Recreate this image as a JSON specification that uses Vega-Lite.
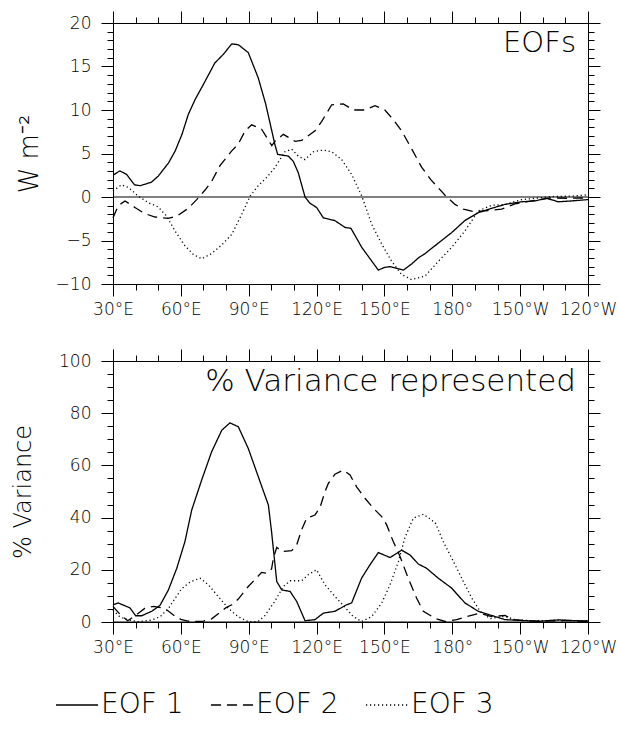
{
  "$schema": "https://vega.github.io/schema/vega-lite/v6.json",
  "padding": {"left": 10, "top": 10, "right": 5, "bottom": 5},
  "background": "white",
  "spacing": 30,
  "config": {
    "font": "DejaVu Sans",
    "view": {"stroke": "black", "strokeWidth": 1},
    "axis": {"grid": false, "domain": false, "tickColor": "black", "tickWidth": 1, "labelColor": "black", "labelFont": "DejaVu Sans", "labelFontSize": 17, "labelFontWeight": 200, "titleFont": "DejaVu Sans", "titleFontWeight": 200, "titleColor": "black", "labelOverlap": false, "labelFlush": false},
    "title": {"font": "DejaVu Sans", "fontWeight": 200, "color": "black"},
    "legend": {"labelFont": "DejaVu Sans", "labelFontWeight": 200, "labelColor": "black"}
  },
  "resolve": {"scale": {"strokeDash": "shared"}, "legend": {"strokeDash": "shared"}},
  "datasets": {
    "eof": [
      {"lon":30,"value":2.5,"series":"EOF 1"},{"lon":33,"value":3.0,"series":"EOF 1"},{"lon":36,"value":2.6,"series":"EOF 1"},{"lon":39.5,"value":1.4,"series":"EOF 1"},{"lon":42,"value":1.3,"series":"EOF 1"},{"lon":47,"value":1.7,"series":"EOF 1"},{"lon":50,"value":2.4,"series":"EOF 1"},{"lon":54.5,"value":3.9,"series":"EOF 1"},{"lon":57.5,"value":5.3,"series":"EOF 1"},{"lon":60.5,"value":7.2,"series":"EOF 1"},{"lon":63.3,"value":9.5,"series":"EOF 1"},{"lon":66.3,"value":11.2,"series":"EOF 1"},{"lon":70.7,"value":13.3,"series":"EOF 1"},{"lon":75,"value":15.4,"series":"EOF 1"},{"lon":78.8,"value":16.4,"series":"EOF 1"},{"lon":82.5,"value":17.6,"series":"EOF 1"},{"lon":85.4,"value":17.5,"series":"EOF 1"},{"lon":89.8,"value":16.6,"series":"EOF 1"},{"lon":94.2,"value":13.7,"series":"EOF 1"},{"lon":97.5,"value":10.7,"series":"EOF 1"},{"lon":101.6,"value":6.0,"series":"EOF 1"},{"lon":102.8,"value":4.9,"series":"EOF 1"},{"lon":107.5,"value":4.7,"series":"EOF 1"},{"lon":109.7,"value":4.1,"series":"EOF 1"},{"lon":111.9,"value":2.8,"series":"EOF 1"},{"lon":114.9,"value":0.0,"series":"EOF 1"},{"lon":117,"value":-0.7,"series":"EOF 1"},{"lon":120,"value":-1.2,"series":"EOF 1"},{"lon":123,"value":-2.4,"series":"EOF 1"},{"lon":128,"value":-2.7,"series":"EOF 1"},{"lon":132.6,"value":-3.5,"series":"EOF 1"},{"lon":135.2,"value":-3.6,"series":"EOF 1"},{"lon":140,"value":-5.8,"series":"EOF 1"},{"lon":147.3,"value":-8.4,"series":"EOF 1"},{"lon":150,"value":-8.1,"series":"EOF 1"},{"lon":152.5,"value":-8.0,"series":"EOF 1"},{"lon":158.4,"value":-8.4,"series":"EOF 1"},{"lon":162,"value":-7.7,"series":"EOF 1"},{"lon":165,"value":-7.0,"series":"EOF 1"},{"lon":168,"value":-6.5,"series":"EOF 1"},{"lon":173.8,"value":-5.3,"series":"EOF 1"},{"lon":179.7,"value":-4.1,"series":"EOF 1"},{"lon":185.6,"value":-2.7,"series":"EOF 1"},{"lon":191.5,"value":-1.8,"series":"EOF 1"},{"lon":197.4,"value":-1.3,"series":"EOF 1"},{"lon":203.3,"value":-0.85,"series":"EOF 1"},{"lon":210.7,"value":-0.55,"series":"EOF 1"},{"lon":216.6,"value":-0.45,"series":"EOF 1"},{"lon":221.7,"value":-0.15,"series":"EOF 1"},{"lon":226.9,"value":-0.55,"series":"EOF 1"},{"lon":232.8,"value":-0.45,"series":"EOF 1"},{"lon":240,"value":-0.3,"series":"EOF 1"},
      {"lon":30,"value":-2.4,"series":"EOF 2"},{"lon":32.3,"value":-1.0,"series":"EOF 2"},{"lon":35.3,"value":-0.45,"series":"EOF 2"},{"lon":39.7,"value":-1.2,"series":"EOF 2"},{"lon":44,"value":-1.9,"series":"EOF 2"},{"lon":48.6,"value":-2.3,"series":"EOF 2"},{"lon":54.4,"value":-2.45,"series":"EOF 2"},{"lon":58.2,"value":-2.2,"series":"EOF 2"},{"lon":63.3,"value":-1.3,"series":"EOF 2"},{"lon":67,"value":-0.3,"series":"EOF 2"},{"lon":70.7,"value":0.8,"series":"EOF 2"},{"lon":73.6,"value":1.8,"series":"EOF 2"},{"lon":77.3,"value":3.6,"series":"EOF 2"},{"lon":82.5,"value":5.3,"series":"EOF 2"},{"lon":85.4,"value":6.1,"series":"EOF 2"},{"lon":88.4,"value":7.6,"series":"EOF 2"},{"lon":91.3,"value":8.3,"series":"EOF 2"},{"lon":95.7,"value":7.8,"series":"EOF 2"},{"lon":100.2,"value":5.9,"series":"EOF 2"},{"lon":101.6,"value":6.4,"series":"EOF 2"},{"lon":105.3,"value":7.2,"series":"EOF 2"},{"lon":110.5,"value":6.4,"series":"EOF 2"},{"lon":113.4,"value":6.5,"series":"EOF 2"},{"lon":119.3,"value":7.6,"series":"EOF 2"},{"lon":122.3,"value":8.7,"series":"EOF 2"},{"lon":126.7,"value":10.6,"series":"EOF 2"},{"lon":131.8,"value":10.7,"series":"EOF 2"},{"lon":136.2,"value":10.0,"series":"EOF 2"},{"lon":141.4,"value":10.0,"series":"EOF 2"},{"lon":145.8,"value":10.5,"series":"EOF 2"},{"lon":150.2,"value":10.0,"series":"EOF 2"},{"lon":153.9,"value":8.9,"series":"EOF 2"},{"lon":157.6,"value":7.6,"series":"EOF 2"},{"lon":162.1,"value":5.5,"series":"EOF 2"},{"lon":166.5,"value":3.4,"series":"EOF 2"},{"lon":170.5,"value":2.0,"series":"EOF 2"},{"lon":176.8,"value":0.2,"series":"EOF 2"},{"lon":181.2,"value":-0.85,"series":"EOF 2"},{"lon":184.9,"value":-1.4,"series":"EOF 2"},{"lon":190,"value":-1.7,"series":"EOF 2"},{"lon":195.9,"value":-1.55,"series":"EOF 2"},{"lon":201.8,"value":-1.4,"series":"EOF 2"},{"lon":207.7,"value":-0.8,"series":"EOF 2"},{"lon":215,"value":-0.45,"series":"EOF 2"},{"lon":223.9,"value":-0.1,"series":"EOF 2"},{"lon":231.3,"value":-0.15,"series":"EOF 2"},{"lon":240,"value":-0.1,"series":"EOF 2"},
      {"lon":30,"value":0.7,"series":"EOF 3"},{"lon":33.8,"value":1.4,"series":"EOF 3"},{"lon":36.8,"value":1.1,"series":"EOF 3"},{"lon":41.2,"value":0.1,"series":"EOF 3"},{"lon":45.6,"value":-0.65,"series":"EOF 3"},{"lon":50,"value":-1.15,"series":"EOF 3"},{"lon":53.7,"value":-2.2,"series":"EOF 3"},{"lon":57.4,"value":-3.9,"series":"EOF 3"},{"lon":61.8,"value":-5.6,"series":"EOF 3"},{"lon":65.5,"value":-6.6,"series":"EOF 3"},{"lon":69.2,"value":-7.1,"series":"EOF 3"},{"lon":73.6,"value":-6.5,"series":"EOF 3"},{"lon":78.1,"value":-5.5,"series":"EOF 3"},{"lon":82.5,"value":-4.3,"series":"EOF 3"},{"lon":86.9,"value":-2.0,"series":"EOF 3"},{"lon":90.6,"value":0.1,"series":"EOF 3"},{"lon":94.2,"value":1.3,"series":"EOF 3"},{"lon":98.5,"value":2.4,"series":"EOF 3"},{"lon":101.6,"value":3.4,"series":"EOF 3"},{"lon":106,"value":5.2,"series":"EOF 3"},{"lon":109,"value":5.5,"series":"EOF 3"},{"lon":111.9,"value":4.7,"series":"EOF 3"},{"lon":114.9,"value":4.3,"series":"EOF 3"},{"lon":118.6,"value":5.2,"series":"EOF 3"},{"lon":123,"value":5.4,"series":"EOF 3"},{"lon":126.7,"value":5.2,"series":"EOF 3"},{"lon":131.1,"value":4.3,"series":"EOF 3"},{"lon":135.5,"value":2.6,"series":"EOF 3"},{"lon":140,"value":0.1,"series":"EOF 3"},{"lon":144.4,"value":-3.15,"series":"EOF 3"},{"lon":148.8,"value":-5.4,"series":"EOF 3"},{"lon":153.2,"value":-7.4,"series":"EOF 3"},{"lon":157.6,"value":-8.9,"series":"EOF 3"},{"lon":162,"value":-9.5,"series":"EOF 3"},{"lon":167.9,"value":-9.1,"series":"EOF 3"},{"lon":173.8,"value":-7.4,"series":"EOF 3"},{"lon":179.7,"value":-5.8,"series":"EOF 3"},{"lon":185.6,"value":-3.9,"series":"EOF 3"},{"lon":191.5,"value":-1.6,"series":"EOF 3"},{"lon":197.4,"value":-0.95,"series":"EOF 3"},{"lon":203.3,"value":-0.85,"series":"EOF 3"},{"lon":210.7,"value":-0.3,"series":"EOF 3"},{"lon":216.6,"value":-0.15,"series":"EOF 3"},{"lon":223.9,"value":0.05,"series":"EOF 3"},{"lon":232.8,"value":0.1,"series":"EOF 3"},{"lon":240,"value":0.25,"series":"EOF 3"}
    ],
    "pct": [
      {"lon":30,"value":6.6,"series":"EOF 1"},{"lon":32.3,"value":7.3,"series":"EOF 1"},{"lon":37.5,"value":5.4,"series":"EOF 1"},{"lon":40,"value":2.4,"series":"EOF 1"},{"lon":42.7,"value":2.4,"series":"EOF 1"},{"lon":47.1,"value":4.1,"series":"EOF 1"},{"lon":50.8,"value":6.4,"series":"EOF 1"},{"lon":54.5,"value":12.3,"series":"EOF 1"},{"lon":58.2,"value":20.6,"series":"EOF 1"},{"lon":61.8,"value":30.8,"series":"EOF 1"},{"lon":64.8,"value":42.9,"series":"EOF 1"},{"lon":69.2,"value":54.4,"series":"EOF 1"},{"lon":73.6,"value":65.2,"series":"EOF 1"},{"lon":78.1,"value":73.5,"series":"EOF 1"},{"lon":81.7,"value":76.3,"series":"EOF 1"},{"lon":85.4,"value":74.8,"series":"EOF 1"},{"lon":89.8,"value":66.5,"series":"EOF 1"},{"lon":95,"value":53.8,"series":"EOF 1"},{"lon":98.7,"value":44.8,"series":"EOF 1"},{"lon":100.1,"value":34.6,"series":"EOF 1"},{"lon":102.4,"value":15.5,"series":"EOF 1"},{"lon":104.6,"value":12.3,"series":"EOF 1"},{"lon":108.3,"value":11.7,"series":"EOF 1"},{"lon":111.2,"value":7.9,"series":"EOF 1"},{"lon":114.9,"value":0.5,"series":"EOF 1"},{"lon":119.3,"value":0.9,"series":"EOF 1"},{"lon":123,"value":3.4,"series":"EOF 1"},{"lon":128.1,"value":4.1,"series":"EOF 1"},{"lon":133.3,"value":6.6,"series":"EOF 1"},{"lon":135.5,"value":7.3,"series":"EOF 1"},{"lon":139.9,"value":16.8,"series":"EOF 1"},{"lon":143.6,"value":21.9,"series":"EOF 1"},{"lon":147.3,"value":26.6,"series":"EOF 1"},{"lon":152.5,"value":24.7,"series":"EOF 1"},{"lon":157.6,"value":27.5,"series":"EOF 1"},{"lon":161.3,"value":25.7,"series":"EOF 1"},{"lon":165,"value":22.2,"series":"EOF 1"},{"lon":168.6,"value":20.6,"series":"EOF 1"},{"lon":173.8,"value":16.8,"series":"EOF 1"},{"lon":179.7,"value":13,"series":"EOF 1"},{"lon":185.6,"value":7.3,"series":"EOF 1"},{"lon":191.5,"value":4.1,"series":"EOF 1"},{"lon":197.4,"value":2.5,"series":"EOF 1"},{"lon":203.3,"value":0.9,"series":"EOF 1"},{"lon":210.7,"value":0.6,"series":"EOF 1"},{"lon":218,"value":0.25,"series":"EOF 1"},{"lon":226.9,"value":0.8,"series":"EOF 1"},{"lon":234.3,"value":0.5,"series":"EOF 1"},{"lon":240,"value":0.4,"series":"EOF 1"},
      {"lon":30,"value":6,"series":"EOF 2"},{"lon":33,"value":3,"series":"EOF 2"},{"lon":36.5,"value":0.5,"series":"EOF 2"},{"lon":40,"value":2.5,"series":"EOF 2"},{"lon":44,"value":5.2,"series":"EOF 2"},{"lon":48,"value":6,"series":"EOF 2"},{"lon":51,"value":5.5,"series":"EOF 2"},{"lon":54,"value":4.5,"series":"EOF 2"},{"lon":57,"value":2.5,"series":"EOF 2"},{"lon":60,"value":1,"series":"EOF 2"},{"lon":63,"value":0.3,"series":"EOF 2"},{"lon":67,"value":0.2,"series":"EOF 2"},{"lon":70,"value":0.3,"series":"EOF 2"},{"lon":73.6,"value":1.2,"series":"EOF 2"},{"lon":77.3,"value":3.7,"series":"EOF 2"},{"lon":80,"value":5.5,"series":"EOF 2"},{"lon":82.5,"value":6.6,"series":"EOF 2"},{"lon":85.4,"value":8.8,"series":"EOF 2"},{"lon":89.8,"value":13.6,"series":"EOF 2"},{"lon":92.7,"value":16.2,"series":"EOF 2"},{"lon":95.7,"value":19,"series":"EOF 2"},{"lon":97.9,"value":18.7,"series":"EOF 2"},{"lon":100.1,"value":20.3,"series":"EOF 2"},{"lon":100.9,"value":24.5,"series":"EOF 2"},{"lon":102.4,"value":28.6,"series":"EOF 2"},{"lon":104.6,"value":27,"series":"EOF 2"},{"lon":109,"value":27.3,"series":"EOF 2"},{"lon":111.2,"value":29.5,"series":"EOF 2"},{"lon":113.4,"value":35.3,"series":"EOF 2"},{"lon":115.6,"value":39.8,"series":"EOF 2"},{"lon":119.3,"value":41,"series":"EOF 2"},{"lon":121.5,"value":43.8,"series":"EOF 2"},{"lon":123.7,"value":49.9,"series":"EOF 2"},{"lon":125.2,"value":53.1,"series":"EOF 2"},{"lon":128.1,"value":56.6,"series":"EOF 2"},{"lon":131.8,"value":58.2,"series":"EOF 2"},{"lon":134.8,"value":56.3,"series":"EOF 2"},{"lon":137.7,"value":51.8,"series":"EOF 2"},{"lon":141.4,"value":47.4,"series":"EOF 2"},{"lon":145.1,"value":43.6,"series":"EOF 2"},{"lon":148.8,"value":40.4,"series":"EOF 2"},{"lon":151,"value":37.2,"series":"EOF 2"},{"lon":153.9,"value":30.8,"series":"EOF 2"},{"lon":156.9,"value":25.1,"series":"EOF 2"},{"lon":160.5,"value":16.8,"series":"EOF 2"},{"lon":164.2,"value":9.2,"series":"EOF 2"},{"lon":167.2,"value":4.1,"series":"EOF 2"},{"lon":172.4,"value":1.4,"series":"EOF 2"},{"lon":176.8,"value":0.2,"series":"EOF 2"},{"lon":182,"value":0.9,"series":"EOF 2"},{"lon":186.3,"value":2.1,"series":"EOF 2"},{"lon":192.2,"value":3.4,"series":"EOF 2"},{"lon":197.4,"value":2.1,"series":"EOF 2"},{"lon":203.3,"value":2.5,"series":"EOF 2"},{"lon":207,"value":0.9,"series":"EOF 2"},{"lon":212,"value":0.5,"series":"EOF 2"},{"lon":221,"value":0.3,"series":"EOF 2"},{"lon":230,"value":0.6,"series":"EOF 2"},{"lon":240,"value":0.2,"series":"EOF 2"},
      {"lon":30,"value":4.5,"series":"EOF 3"},{"lon":33,"value":2,"series":"EOF 3"},{"lon":36.5,"value":0.8,"series":"EOF 3"},{"lon":41.2,"value":0.1,"series":"EOF 3"},{"lon":47,"value":0.7,"series":"EOF 3"},{"lon":50.8,"value":2,"series":"EOF 3"},{"lon":54.5,"value":5.2,"series":"EOF 3"},{"lon":57.4,"value":9,"series":"EOF 3"},{"lon":60.4,"value":12.8,"series":"EOF 3"},{"lon":64,"value":15.3,"series":"EOF 3"},{"lon":68.5,"value":16.8,"series":"EOF 3"},{"lon":72.2,"value":14.2,"series":"EOF 3"},{"lon":76.6,"value":9.7,"series":"EOF 3"},{"lon":81,"value":5.2,"series":"EOF 3"},{"lon":85.4,"value":2,"series":"EOF 3"},{"lon":89.8,"value":0.1,"series":"EOF 3"},{"lon":94.2,"value":0.2,"series":"EOF 3"},{"lon":97.2,"value":2.5,"series":"EOF 3"},{"lon":101.6,"value":8,"series":"EOF 3"},{"lon":105.3,"value":13.6,"series":"EOF 3"},{"lon":108.3,"value":15.8,"series":"EOF 3"},{"lon":113.4,"value":15.8,"series":"EOF 3"},{"lon":116.3,"value":18.1,"series":"EOF 3"},{"lon":120,"value":20,"series":"EOF 3"},{"lon":123.7,"value":14.3,"series":"EOF 3"},{"lon":128.1,"value":9.8,"series":"EOF 3"},{"lon":132.6,"value":5.6,"series":"EOF 3"},{"lon":136.2,"value":2.1,"series":"EOF 3"},{"lon":139.9,"value":0.2,"series":"EOF 3"},{"lon":144.4,"value":2.1,"series":"EOF 3"},{"lon":148.8,"value":7.3,"series":"EOF 3"},{"lon":152.5,"value":14.3,"series":"EOF 3"},{"lon":156.2,"value":23.2,"series":"EOF 3"},{"lon":159.2,"value":32.7,"series":"EOF 3"},{"lon":162.8,"value":39.8,"series":"EOF 3"},{"lon":167.3,"value":41.3,"series":"EOF 3"},{"lon":172.5,"value":38,"series":"EOF 3"},{"lon":176,"value":30.8,"series":"EOF 3"},{"lon":180.5,"value":23.2,"series":"EOF 3"},{"lon":184.9,"value":15.5,"series":"EOF 3"},{"lon":188.6,"value":9.2,"series":"EOF 3"},{"lon":192.3,"value":4.1,"series":"EOF 3"},{"lon":196.7,"value":1.3,"series":"EOF 3"},{"lon":203.3,"value":2.2,"series":"EOF 3"},{"lon":207.7,"value":0.9,"series":"EOF 3"},{"lon":215,"value":0.5,"series":"EOF 3"},{"lon":226.9,"value":0.6,"series":"EOF 3"},{"lon":240,"value":0.4,"series":"EOF 3"}
    ],
    "zero": [{"lonStart":30,"lonEnd":240,"level":0}]
  },
  "vconcat": [
    {
      "width": 475,
      "height": 261,
      "title": {"text": "EOFs", "orient": "top", "anchor": "end", "frame": "group", "offset": -47, "dx": -12, "fontSize": 29, "fontWeight": 200},
      "resolve": {"axis": {"x": "independent", "y": "independent"}},
      "layer": [
        {
          "data": {"name": "eof"},
          "mark": {"type": "line", "stroke": "black", "strokeWidth": 1.3},
          "encoding": {
            "x": {"field": "lon", "type": "quantitative", "scale": {"domain": [30, 240], "nice": false, "zero": false},
              "axis": {"orient": "bottom", "title": null, "values": [30,40,50,60,70,80,90,100,110,120,130,140,150,160,170,180,190,200,210,220,230,240],
                "tickSize": {"condition": {"test": "datum.value % 30 === 0", "value": 12}, "value": 6},
                "labelPadding": 5,
                "labelExpr": "datum.value % 30 === 0 ? (datum.value == 180 ? '180°' : (datum.value < 180 ? datum.value + '°E' : (360 - datum.value) + '°W')) : ''"}},
            "y": {"field": "value", "type": "quantitative", "scale": {"domain": [-10, 20], "nice": false, "zero": false},
              "axis": {"orient": "left", "title": "W m⁻²", "titleFontSize": 26, "titleX": -71,
                "values": [-10,-9,-8,-7,-6,-5,-4,-3,-2,-1,0,1,2,3,4,5,6,7,8,9,10,11,12,13,14,15,16,17,18,19,20],
                "tickSize": {"condition": {"test": "datum.value % 5 === 0", "value": 12}, "value": 6},
                "labelPadding": 10,
                "labelExpr": "datum.value % 5 === 0 ? datum.label : ''"}},
            "strokeDash": {"field": "series", "type": "nominal",
              "scale": {"domain": ["EOF 1", "EOF 2", "EOF 3"], "range": [[1, 0], [10, 6], [1.2, 2.8]]},
              "legend": {"orient": "none", "legendX": -58, "legendY": 660, "direction": "horizontal", "title": null,
                "symbolType": "stroke", "symbolSize": 1764, "symbolStrokeWidth": 1.3, "symbolStrokeColor": "black",
                "labelFontSize": 28, "labelOffset": 2, "columnPadding": 24}}
          }
        },
        {
          "data": {"name": "zero"},
          "mark": {"type": "rule", "stroke": "black", "strokeWidth": 1},
          "encoding": {
            "x": {"field": "lonStart", "type": "quantitative",
              "axis": {"orient": "top", "title": null, "labels": false, "values": [30,40,50,60,70,80,90,100,110,120,130,140,150,160,170,180,190,200,210,220,230,240],
                "tickSize": {"condition": {"test": "datum.value % 30 === 0", "value": 12}, "value": 6}}},
            "x2": {"field": "lonEnd"},
            "y": {"field": "level", "type": "quantitative",
              "axis": {"orient": "right", "title": null, "labels": false,
                "values": [-10,-9,-8,-7,-6,-5,-4,-3,-2,-1,0,1,2,3,4,5,6,7,8,9,10,11,12,13,14,15,16,17,18,19,20],
                "tickSize": {"condition": {"test": "datum.value % 5 === 0", "value": 12}, "value": 6}}}
          }
        }
      ]
    },
    {
      "width": 475,
      "height": 261,
      "title": {"text": "% Variance represented", "orient": "top", "anchor": "end", "frame": "group", "offset": -49, "dx": -12, "fontSize": 31, "fontWeight": 200},
      "resolve": {"axis": {"x": "independent", "y": "independent"}},
      "layer": [
        {
          "data": {"name": "pct"},
          "mark": {"type": "line", "stroke": "black", "strokeWidth": 1.3},
          "encoding": {
            "x": {"field": "lon", "type": "quantitative", "scale": {"domain": [30, 240], "nice": false, "zero": false},
              "axis": {"orient": "bottom", "title": null, "values": [30,40,50,60,70,80,90,100,110,120,130,140,150,160,170,180,190,200,210,220,230,240],
                "tickSize": {"condition": {"test": "datum.value % 30 === 0", "value": 12}, "value": 6},
                "labelPadding": 5,
                "labelExpr": "datum.value % 30 === 0 ? (datum.value == 180 ? '180°' : (datum.value < 180 ? datum.value + '°E' : (360 - datum.value) + '°W')) : ''"}},
            "y": {"field": "value", "type": "quantitative", "scale": {"domain": [0, 100], "nice": false},
              "axis": {"orient": "left", "title": "% Variance", "titleFontSize": 24, "titleX": -78,
                "values": [0,5,10,15,20,25,30,35,40,45,50,55,60,65,70,75,80,85,90,95,100],
                "tickSize": {"condition": {"test": "datum.value % 20 === 0", "value": 12}, "value": 6},
                "labelPadding": 10,
                "labelExpr": "datum.value % 20 === 0 ? datum.label : ''"}},
            "strokeDash": {"field": "series", "type": "nominal",
              "scale": {"domain": ["EOF 1", "EOF 2", "EOF 3"], "range": [[1, 0], [10, 6], [1.2, 2.8]]},
              "legend": null}
          }
        },
        {
          "data": {"name": "zero"},
          "mark": {"type": "rule", "stroke": "black", "strokeWidth": 1},
          "encoding": {
            "x": {"field": "lonStart", "type": "quantitative",
              "axis": {"orient": "top", "title": null, "labels": false, "values": [30,40,50,60,70,80,90,100,110,120,130,140,150,160,170,180,190,200,210,220,230,240],
                "tickSize": {"condition": {"test": "datum.value % 30 === 0", "value": 12}, "value": 6}}},
            "x2": {"field": "lonEnd"},
            "y": {"field": "level", "type": "quantitative",
              "axis": {"orient": "right", "title": null, "labels": false,
                "values": [0,5,10,15,20,25,30,35,40,45,50,55,60,65,70,75,80,85,90,95,100],
                "tickSize": {"condition": {"test": "datum.value % 20 === 0", "value": 12}, "value": 6}}}
          }
        }
      ]
    }
  ]
}
